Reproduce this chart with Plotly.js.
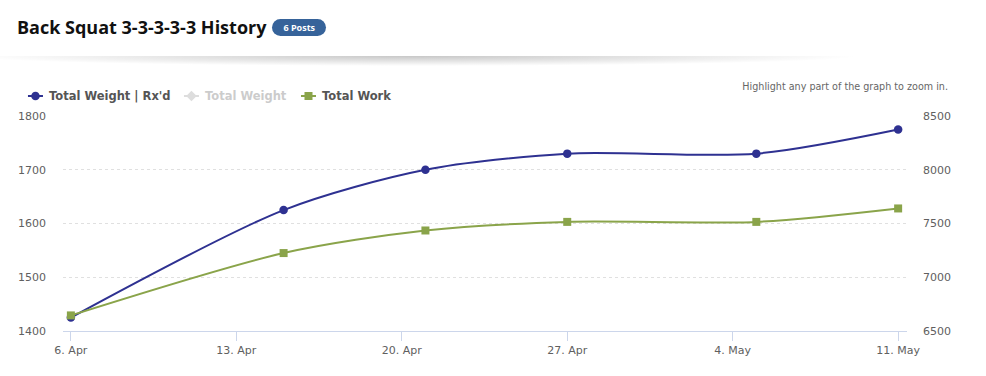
<!DOCTYPE html>
<html>
<head>
<meta charset="utf-8">
<script src="https://cdn.plot.ly/plotly-3.0.1.min.js"></script>
<style>
  html, body { margin: 0; padding: 0; background: #fff; }
  #wrap { position: relative; width: 986px; height: 376px; overflow: hidden; }
  #chart { position: absolute; left: 0; top: 0; width: 986px; height: 376px; }
  #title { position: absolute; left: 17px; top: 15px; font-family: "Open Sans", sans-serif; font-weight: 700; font-size: 18px; color: #111; white-space: nowrap; z-index: 2; }
  #badge { display: inline-block; vertical-align: 3px; margin-left: 6px; background: #36639a; color: #fff; font-family: "Open Sans", sans-serif; font-size: 9px; font-weight: 700; padding: 2px 11px; border-radius: 9px; line-height: 13px; }
  #shadow { position: absolute; left: 0; top: 56px; width: 986px; height: 10px; background: radial-gradient(ellipse 45% 100% at 42% 0%, rgba(0,0,0,0.22), rgba(0,0,0,0) 100%); z-index: 2; }
  #hint { position: absolute; right: 38px; top: 81px; font-family: "DejaVu Sans", sans-serif; font-size: 9.6px; color: #666; z-index: 2; }
</style>
</head>
<body>
<div id="wrap">
  <div id="chart"></div>
  <div id="title">Back Squat 3-3-3-3-3 History<span id="badge">6 Posts</span></div>
  <div id="shadow"></div>
  <div id="hint">Highlight any part of the graph to zoom in.</div>
</div>
<script>
const dates = ["2015-04-06", "2015-04-15", "2015-04-21", "2015-04-27", "2015-05-05", "2015-05-11"];
const totalWeightRxd = [1425, 1625, 1700, 1730, 1730, 1775];
const totalWeight = [1425, 1625, 1700, 1730, 1730, 1775];
const totalWork = [6645, 7225, 7435, 7515, 7515, 7640];
const leftTicks = [1400, 1500, 1600, 1700, 1800];
const rightTicks = [6500, 7000, 7500, 8000, 8500];

const blue = "#2e3191";
const green = "#8aa44a";
const tickFont = { family: "DejaVu Sans, sans-serif", size: 11, color: "#606060" };
const legFont = { family: "DejaVu Sans, sans-serif", size: 11.5, color: "#555", weight: 700 };

const traces = [
  {
    name: "Total Weight | Rx'd", x: dates, y: totalWeightRxd, yaxis: "y", legend: "legend",
    mode: "lines+markers", line: { color: blue, width: 2, shape: "spline", smoothing: 0.8 },
    marker: { symbol: "circle", size: 8.5, color: blue }
  },
  {
    name: "Total Weight", x: dates, y: totalWeight, yaxis: "y", visible: "legendonly", legend: "legend2",
    mode: "lines+markers", line: { color: "#bbbbbb", width: 2, shape: "spline" },
    marker: { symbol: "diamond", size: 8, color: "#bbbbbb" }
  },
  {
    name: "Total Work", x: dates, y: totalWork, yaxis: "y2", legend: "legend3",
    mode: "lines+markers", line: { color: green, width: 2, shape: "spline", smoothing: 0.8 },
    marker: { symbol: "square", size: 8, color: green }
  }
];

function leg(x, font) {
  return {
    orientation: "h", xref: "container", yref: "container",
    x: x, xanchor: "left", y: 0.7447, yanchor: "middle",
    font: font, bgcolor: "rgba(0,0,0,0)", itemwidth: 30
  };
}

const layout = {
  width: 986, height: 376,
  margin: { l: 63, r: 79, t: 116, b: 45, pad: 0, autoexpand: false },
  paper_bgcolor: "rgba(0,0,0,0)", plot_bgcolor: "rgba(0,0,0,0)",
  showlegend: true,
  legend: leg(0.0091, legFont),
  legend2: leg(0.1673, Object.assign({}, legFont, { color: "#999" })),
  legend3: leg(0.2860, legFont),
  xaxis: {
    type: "date",
    range: ["2015-04-05 16:00", "2015-05-11 09:00"],
    tick0: "2015-04-06", dtick: 604800000,
    tickformat: "%-d. %b",
    ticks: "outside", ticklen: 9, tickcolor: "#ccd6eb", tickwidth: 1,
    showline: true, linecolor: "#ccd6eb", linewidth: 1,
    showgrid: false, zeroline: false,
    tickfont: tickFont, fixedrange: true
  },
  yaxis: {
    range: [1400, 1800], tickvals: leftTicks, ticktext: leftTicks.map(String),
    showgrid: true, gridcolor: "#e0e0e0", griddash: "dot", gridwidth: 1,
    zeroline: false, showline: false, ticks: "", ticklabelstandoff: 16,
    tickfont: tickFont, fixedrange: true
  },
  yaxis2: {
    overlaying: "y", side: "right",
    range: [6500, 8500], tickvals: rightTicks, ticktext: rightTicks.map(String),
    showgrid: false, zeroline: false, showline: false, ticks: "", ticklabelstandoff: 15,
    tickfont: tickFont, fixedrange: true
  }
};

Plotly.newPlot("chart", traces, layout, { displayModeBar: false, staticPlot: true }).then(function (gd) {
  // shorten legend swatches to the compact Highcharts style
  gd.querySelectorAll(".legendlines path").forEach(function (p) { p.setAttribute("d", "M19,0h15"); });
  gd.querySelectorAll(".legendpoints path").forEach(function (p) { p.setAttribute("transform", "translate(26.5,0)"); });
});
</script>
</body>
</html>
